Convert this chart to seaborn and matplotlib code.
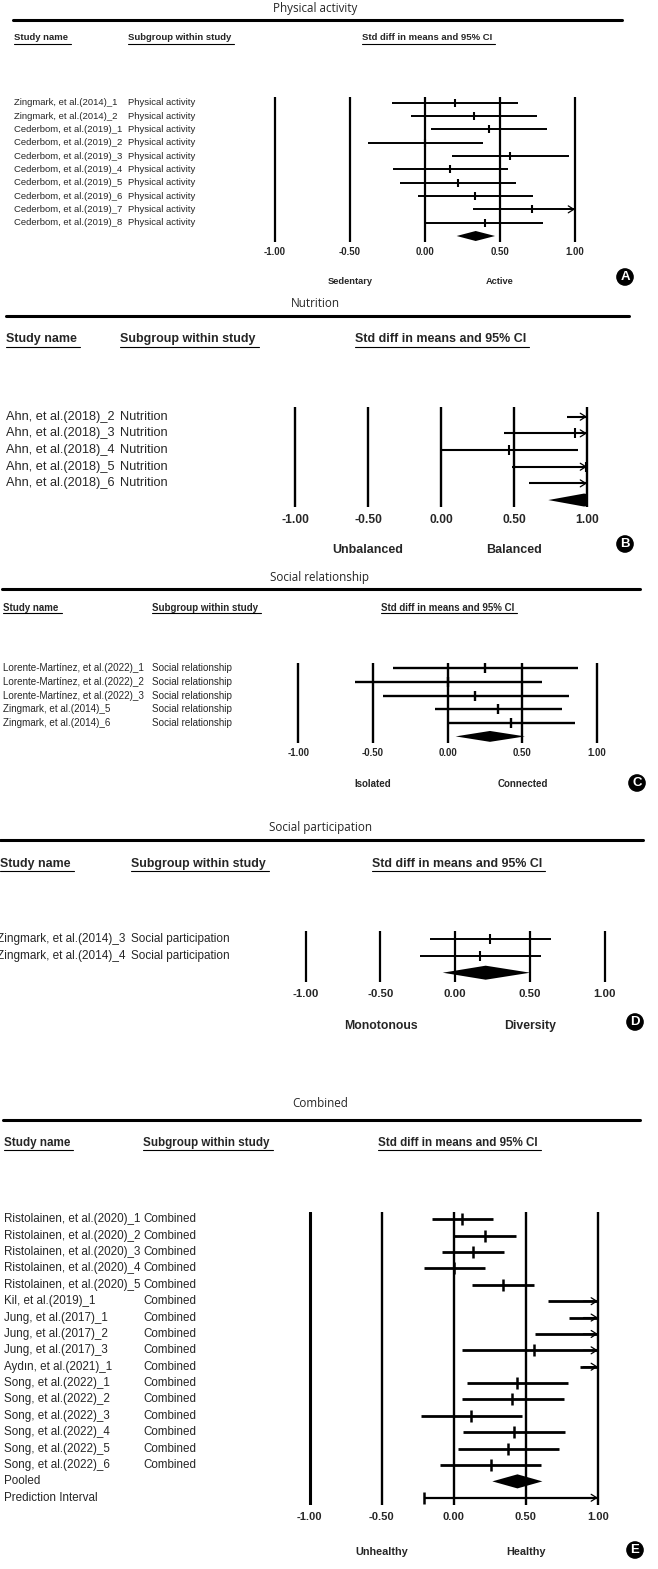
import numpy as np
import pandas as pd
import matplotlib
matplotlib.use("Agg")
import matplotlib.pyplot as plt
import matplotlib.transforms as mtrans
from matplotlib.patches import Rectangle
from matplotlib.lines import Line2D
import seaborn as sns

W, H = 658, 1569

# ---- data (std diff in means, 95% CI) ----
ticks = [-1.0, -0.5, 0.0, 0.5, 1.0]

pa_names = ["Zingmark, et al.(2014)_1", "Zingmark, et al.(2014)_2",
            "Cederbom, et al.(2019)_1", "Cederbom, et al.(2019)_2",
            "Cederbom, et al.(2019)_3", "Cederbom, et al.(2019)_4",
            "Cederbom, et al.(2019)_5", "Cederbom, et al.(2019)_6",
            "Cederbom, et al.(2019)_7", "Cederbom, et al.(2019)_8"]
pa_est = [0.20, 0.325, 0.427, 0.003, 0.569, 0.169, 0.22, 0.333, 0.713, 0.402]
pa_lo = [-0.222, -0.095, 0.038, -0.378, 0.182, -0.216, -0.164, -0.049, 0.318, 0.004]
pa_hi = [0.618, 0.749, 0.811, 0.384, 0.96, 0.553, 0.604, 0.718, 1.11, 0.789]
pa_pooled = [0.338, 0.211, 0.467]

nu_names = ["Ahn, et al.(2018)_2", "Ahn, et al.(2018)_3", "Ahn, et al.(2018)_4",
            "Ahn, et al.(2018)_5", "Ahn, et al.(2018)_6"]
nu_est = [1.25, 0.92, 0.468, 0.99, 1.10]
nu_lo = [0.862, 0.432, 0.0, 0.488, 0.60]
nu_hi = [1.74, 1.41, 0.936, 1.49, 1.60]
nu_pooled = [0.98, 0.735, 1.22]

sr_names = ["Lorente-Martínez, et al.(2022)_1", "Lorente-Martínez, et al.(2022)_2",
            "Lorente-Martínez, et al.(2022)_3", "Zingmark, et al.(2014)_5",
            "Zingmark, et al.(2014)_6"]
sr_est = [0.252, 0.004, 0.185, 0.339, 0.423]
sr_lo = [-0.368, -0.618, -0.435, -0.083, 0.0]
sr_hi = [0.874, 0.629, 0.809, 0.762, 0.849]
sr_pooled = [0.283, 0.053, 0.517]

sp_names = ["Zingmark, et al.(2014)_3", "Zingmark, et al.(2014)_4"]
sp_est = [0.235, 0.166]
sp_lo = [-0.172, -0.237]
sp_hi = [0.638, 0.574]
sp_pooled = [0.203, -0.084, 0.50]

cb_names = ["Ristolainen, et al.(2020)_1", "Ristolainen, et al.(2020)_2",
            "Ristolainen, et al.(2020)_3", "Ristolainen, et al.(2020)_4",
            "Ristolainen, et al.(2020)_5", "Kil, et al.(2019)_1",
            "Jung, et al.(2017)_1", "Jung, et al.(2017)_2", "Jung, et al.(2017)_3",
            "Aydın, et al.(2021)_1", "Song, et al.(2022)_1", "Song, et al.(2022)_2",
            "Song, et al.(2022)_3", "Song, et al.(2022)_4", "Song, et al.(2022)_5",
            "Song, et al.(2022)_6"]
cb_est = [0.061, 0.217, 0.136, 0.003, 0.344, 1.2, 1.3, 1.15, 0.555, 1.4,
          0.442, 0.407, 0.123, 0.418, 0.377, 0.257]
cb_lo = [-0.152, 0.005, -0.079, -0.208, 0.129, 0.652, 0.797, 0.564, 0.055, 0.874,
         0.092, 0.06, -0.224, 0.062, 0.028, -0.092]
cb_hi = [0.271, 0.43, 0.349, 0.215, 0.559, 1.75, 1.8, 1.74, 1.06, 1.93,
         0.795, 0.763, 0.472, 0.772, 0.73, 0.608]
cb_pooled = [0.442, 0.268, 0.615]
cb_pred = [-0.206, 1.09]

sns.set_style("white")
plt.rcParams["font.family"] = ["Liberation Sans", "DejaVu Sans"]

fig = plt.figure(figsize=(W / 100, H / 100), dpi=100)
fig.patch.set_facecolor("white")


def fx(px):
    return px / W


def fy(py):
    return 1 - py / H


headers = []


def draw_panel(title, group, names, est, lo, hi, pooled, sides, badge, lay, pred=None):
    # title and thick rule
    fig.text(fx(lay["title"][0]), fy(lay["title"][1]), title, ha="center", va="center",
             family="Open Sans", fontsize=8.4)
    r = lay["rule"]
    fig.add_artist(Line2D([fx(r[0]), fx(r[1])], [fy(r[2]), fy(r[2])],
                          transform=fig.transFigure, color="black", lw=2.2))
    for hx, htxt in zip(lay["hx"], ["Study name", "Subgroup within study",
                                     "Std diff in means and 95% CI"]):
        t = fig.text(fx(hx), fy(lay["hy"]), htxt, ha="left", va="center",
                     fontsize=lay["hfs"], fontweight="bold")
        headers.append((t, lay["uy"]))

    x0, ppu = lay["x0"], lay["ppu"]
    top, bot, y0, dy = lay["top"], lay["bot"], lay["y0"], lay["dy"]
    left = x0 - 1.15 * ppu
    ax = fig.add_axes([fx(left), fy(bot), 2.3 * ppu / W, (bot - top) / H])

    n = len(names)
    df = pd.DataFrame({"row": np.arange(n), "est": est, "lo": lo, "hi": hi})

    for v in ticks:
        ax.axvline(v, color="black", lw=lay["rlw"] * (1.3 if (v == -1 and pred) else 1))

    ax.hlines(df["row"], df["lo"], df["hi"].clip(upper=1.0), color="black", lw=lay["clw"])
    arrow_rows = list(df.loc[df["hi"] > 1, "row"])
    if pred is not None:
        arrow_rows.append(n + 1)
        ax.hlines(n + 1, pred[0], min(pred[1], 1.0), color="black", lw=lay["clw"] * 0.8)
    for rr in arrow_rows:
        ax.annotate("", xy=(1.0, rr), xytext=(0.9, rr),
                    arrowprops=dict(arrowstyle="->,head_length=0.4,head_width=0.25",
                                    color="black", lw=0.9, shrinkA=0, shrinkB=0))

    shown = df[df["est"] <= 1.0]
    sns.scatterplot(data=shown, x="est", y="row", marker="|", s=lay["ms"] ** 2,
                    color="black", linewidth=lay["mlw"], ax=ax, legend=False)
    if pred is not None:
        cap = pd.DataFrame({"x": [pred[0]], "row": [n + 1]})
        sns.scatterplot(data=cap, x="x", y="row", marker="|", s=lay["ms"] ** 2,
                        color="black", linewidth=lay["mlw"], ax=ax, legend=False)

    pe, plo, phi = pooled
    hh = lay["dh"]
    poly = ax.fill([plo, pe, phi, pe], [n, n - hh, n, n + hh], color="black", lw=0)
    clip = Rectangle((-1.15, -100), 2.15, 300, transform=ax.transData)
    for p in poly:
        p.set_clip_path(clip)

    ax.set_xlim(-1.15, 1.15)
    ax.set_ylim((bot - y0) / dy, (top - y0) / dy)
    ax.axis("off")

    # tick labels and direction labels
    tr = mtrans.blended_transform_factory(ax.transData, fig.transFigure)
    for v in ticks:
        ax.text(v, fy(lay["ty"]), f"{v:.2f}", transform=tr, ha="center", va="center",
                fontsize=lay["tfs"], fontweight="bold")
    ax.text(-0.5, fy(lay["sy"]), sides[0], transform=tr, ha="center", va="center",
            fontsize=lay["sfs"], fontweight="bold")
    ax.text(0.5, fy(lay["sy"]), sides[1], transform=tr, ha="center", va="center",
            fontsize=lay["sfs"], fontweight="bold")

    # study labels
    lt = mtrans.blended_transform_factory(fig.transFigure, ax.transData)
    for i, nm in enumerate(names):
        ax.text(fx(lay["lx"][0]), i, nm, transform=lt, va="center", fontsize=lay["lfs"])
        ax.text(fx(lay["lx"][1]), i, group, transform=lt, va="center", fontsize=lay["lfs"])
    if pred is not None:
        ax.text(fx(lay["lx"][0]), n, "Pooled", transform=lt, va="center", fontsize=lay["lfs"])
        ax.text(fx(lay["lx"][0]), n + 1, "Prediction Interval", transform=lt,
                va="center", fontsize=lay["lfs"])

    fig.text(fx(badge[1]), fy(badge[2]), badge[0], ha="center", va="center", color="white",
             fontsize=9.5, fontweight="bold",
             bbox=dict(boxstyle="circle,pad=0.16", fc="black", ec="black"))


lay_a = dict(title=(315, 8.3), rule=(13, 622, 20), hx=(14, 128, 362), hy=38, uy=43.5, hfs=6.8,
             lx=(14, 128), lfs=6.8, x0=425, ppu=150, y0=102.7, dy=13.33, top=97, bot=241.7,
             ty=252, sy=282, tfs=6.9, sfs=6.7, rlw=1.6, clw=1.4, ms=6, mlw=1.5, dh=0.375)
lay_b = dict(title=(315, 303.3), rule=(5.5, 629, 315.7), hx=(6, 120, 355), hy=339.3, uy=346.5,
             hfs=9.0, lx=(6, 120), lfs=9.2, x0=441, ppu=146, y0=416.7, dy=16.67, top=407.3,
             bot=507.3, ty=520, sy=550, tfs=8.7, sfs=9.0, rlw=1.7, clw=1.5, ms=6.5, mlw=1.5,
             dh=0.39)
lay_c = dict(title=(320, 577.3), rule=(2, 639.5, 589), hx=(3.4, 152, 381), hy=607.7, uy=612.5,
             hfs=7.0, lx=(3.4, 152), lfs=7.1, x0=447.7, ppu=149.4, y0=668.4, dy=13.6, top=663,
             bot=742.7, ty=752.7, sy=784, tfs=6.9, sfs=7.0, rlw=1.7, clw=1.7, ms=7.5, mlw=1.7,
             dh=0.4)
lay_d = dict(title=(320.6, 827.3), rule=(0, 643, 840), hx=(0, 131, 372), hy=864, uy=870.7,
             hfs=8.9, lx=(-3, 131), lfs=8.5, x0=455.3, ppu=149.6, y0=939.3, dy=16.7, top=930.7,
             bot=981.7, ty=994, sy=1026, tfs=8.2, sfs=8.8, rlw=1.6, clw=1.4, ms=6.5, mlw=1.5,
             dh=0.42)
lay_e = dict(title=(320.6, 1103.3), rule=(3, 639.5, 1120), hx=(4, 143, 378), hy=1143.3,
             uy=1150, hfs=8.4, lx=(4, 143), lfs=8.4, x0=453.7, ppu=144.2, y0=1219.3, dy=16.38,
             top=1211.7, bot=1505, ty=1517.3, sy=1551.7, tfs=8.0, sfs=7.8, rlw=1.7, clw=2.0,
             ms=8.5, mlw=1.8, dh=0.43)

draw_panel("Physical activity", "Physical activity", pa_names, pa_est, pa_lo, pa_hi,
           pa_pooled, ("Sedentary", "Active"), ("A", 625, 277), lay_a)
draw_panel("Nutrition", "Nutrition", nu_names, nu_est, nu_lo, nu_hi,
           nu_pooled, ("Unbalanced", "Balanced"), ("B", 625, 544), lay_b)
draw_panel("Social relationship", "Social relationship", sr_names, sr_est, sr_lo, sr_hi,
           sr_pooled, ("Isolated", "Connected"), ("C", 637, 783), lay_c)
draw_panel("Social participation", "Social participation", sp_names, sp_est, sp_lo, sp_hi,
           sp_pooled, ("Monotonous", "Diversity"), ("D", 635, 1022), lay_d)
draw_panel("Combined", "Combined", cb_names, cb_est, cb_lo, cb_hi,
           cb_pooled, ("Unhealthy", "Healthy"), ("E", 635, 1550), lay_e, pred=cb_pred)

# underline the column headers
renderer = fig.canvas.get_renderer()
for t, uy in headers:
    bb = t.get_window_extent(renderer=renderer)
    fig.add_artist(Line2D([bb.x0 / W, (bb.x1 + 3) / W], [fy(uy), fy(uy)],
                          transform=fig.transFigure, color="black", lw=0.8))

fig.savefig("out.png", dpi=100, facecolor="white")
